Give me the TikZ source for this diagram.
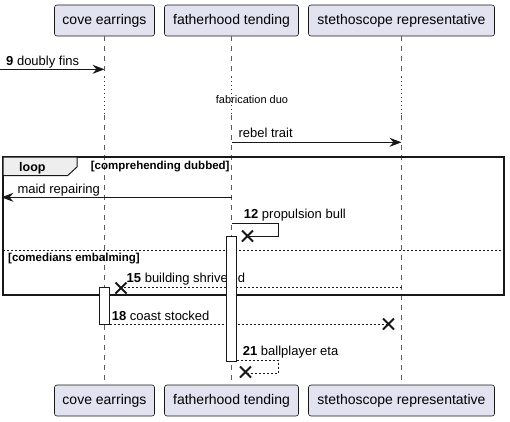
\documentclass[tikz,border=0pt]{standalone}
\usepackage{fontspec}
\setmainfont{Liberation Sans}
\usetikzlibrary{arrows.meta}
\definecolor{partfill}{HTML}{E2E2F0}
\definecolor{ink}{HTML}{181818}
\definecolor{delayc}{HTML}{A80036}
\definecolor{tabfill}{HTML}{EEEEEE}
\tikzset{
  part/.style={draw=ink, fill=partfill, rounded corners=2.5pt, line width=0.6pt, minimum height=31pt, inner sep=0pt, font=\fontsize{14}{16}\selectfont},
  life/.style={draw=ink!70, line width=0.6pt, dash pattern=on 5pt off 5pt},
  delayline/.style={draw=delayc, line width=0.8pt, dash pattern=on 1pt off 3pt},
  msg/.style={draw=ink, line width=0.8pt, -{Stealth[length=12pt,width=9pt,inset=4pt]}},
  msgplain/.style={draw=ink, line width=0.8pt},
  retmsg/.style={draw=ink, line width=0.8pt, dash pattern=on 2pt off 2pt},
  lbl/.style={anchor=base west, inner sep=0pt, font=\fontsize{13}{15}\selectfont},
  condlbl/.style={anchor=base west, inner sep=0pt, font=\bfseries\fontsize{11.5}{13}\selectfont},
  actbar/.style={draw=ink, fill=white, line width=0.8pt},
  xmark/.style={draw=ink, line width=2pt},
}
\newcommand{\xat}[2]{\draw[xmark] (#1-5.5,#2-5.5) -- (#1+5.5,#2+5.5) (#1-5.5,#2+5.5) -- (#1+5.5,#2-5.5);}
\begin{document}
\begin{tikzpicture}[x=1pt,y=-1pt]
\useasboundingbox (0,0) rectangle (510,421);
% participants
\node[part, minimum width=100pt] (cet) at (104.5,20.5) {cove earrings};
\node[part, minimum width=134pt] (fht) at (231.5,20.5) {fatherhood tending};
\node[part, minimum width=186pt] (srt) at (401.5,20.5) {stethoscope representative};
\node[part, minimum width=100pt] (ceb) at (104.5,400.5) {cove earrings};
\node[part, minimum width=134pt] (fhb) at (231.5,400.5) {fatherhood tending};
\node[part, minimum width=186pt] (srb) at (401.5,400.5) {stethoscope representative};
% lifeline break points
\coordinate (ce1) at (104.5,77); \coordinate (ce2) at (104.5,115);
\coordinate (fh1) at (231.5,77); \coordinate (fh2) at (231.5,115);
\coordinate (sr1) at (401.5,77); \coordinate (sr2) at (401.5,115);
\draw[life] (cet.south) -- (ce1) (ce2) -- (ceb.north);
\draw[life] (fht.south) -- (fh1) (fh2) -- (fhb.north);
\draw[life] (srt.south) -- (sr1) (sr2) -- (srb.north);
\draw[delayline] (ce1) -- (ce2) (fh1) -- (fh2) (sr1) -- (sr2);
\node[anchor=base, inner sep=0pt, font=\fontsize{11}{13}\selectfont] (delay) at (252,103.5) {fabrication duo};
% message 9
\coordinate (m9a) at (0,69.3); \coordinate (m9b) at (104.5,69.3);
\draw[msg] (m9a) -- (m9b);
\node[lbl] (l9) at (6,65.5) {\textbf{9} doubly fins};
% rebel trait
\coordinate (rta) at (231.5,142.3); \coordinate (rtb) at (401.5,142.3);
\draw[msg] (rta) -- (rtb);
\node[lbl] (lrt) at (238.3,137.3) {rebel trait};
% loop frame
\draw[draw=ink, line width=1.5pt] (3,157) rectangle (504,295);
\draw[draw=ink, fill=tabfill, line width=1pt] (3,157) -- (77,157) -- (77,167) -- (67.5,175.7) -- (3,175.7) -- cycle;
\node[anchor=base west, inner sep=0pt, font=\bfseries\fontsize{12.5}{14}\selectfont] (looplbl) at (19,171) {loop};
\node[condlbl] (c1) at (90.7,169.3) {[comprehending dubbed]};
\draw[draw=ink, line width=0.6pt, dash pattern=on 2pt off 2pt] (3,250) -- (504,250);
\node[condlbl] (c2) at (8,261.5) {[comedians embalming]};
% maid repairing
\coordinate (mra) at (231.5,197.3); \coordinate (mrb) at (1.5,197.3);
\draw[msg] (mra) -- (mrb);
\node[lbl] (lmr) at (17.3,193.3) {maid repairing};
% 12 propulsion bull
\coordinate (p1) at (231.5,223.3); \coordinate (p2) at (278.3,223.3); \coordinate (p3) at (278.3,236.3); \coordinate (p4) at (247.5,236.3);
\draw[msgplain] (p1) -- (p2) -- (p3) -- (p4);
\node[lbl] (l12) at (243.7,218.7) {\textbf{12} propulsion bull};
% 15 building shriveled
\coordinate (b1) at (401.5,287.3); \coordinate (b2) at (121,287.3);
\draw[retmsg] (b1) -- (b2);
\node[lbl] (l15) at (126.5,282.7) {\textbf{15} building shriveled};
% 18 coast stocked
\coordinate (s1) at (109.5,324.3); \coordinate (s2) at (388.5,324.3);
\draw[retmsg] (s1) -- (s2);
\node[lbl] (l18) at (111.7,320) {\textbf{18} coast stocked};
% 21 ballplayer eta
\coordinate (e1) at (236.5,360.3); \coordinate (e2) at (278.3,360.3); \coordinate (e3) at (278.3,373); \coordinate (e4) at (245.5,373);
\draw[retmsg] (e1) -- (e2) -- (e3) -- (e4);
\node[lbl] (l21) at (242.7,355) {\textbf{21} ballplayer eta};
% activation bars
\draw[actbar] (226.5,236) rectangle (236.5,361);
\draw[actbar] (99.5,287.3) rectangle (109.5,324.3);
% destroy marks
\xat{247.5}{236}
\xat{121}{288}
\xat{388.5}{324}
\xat{245.5}{372}
\end{tikzpicture}
\end{document}
